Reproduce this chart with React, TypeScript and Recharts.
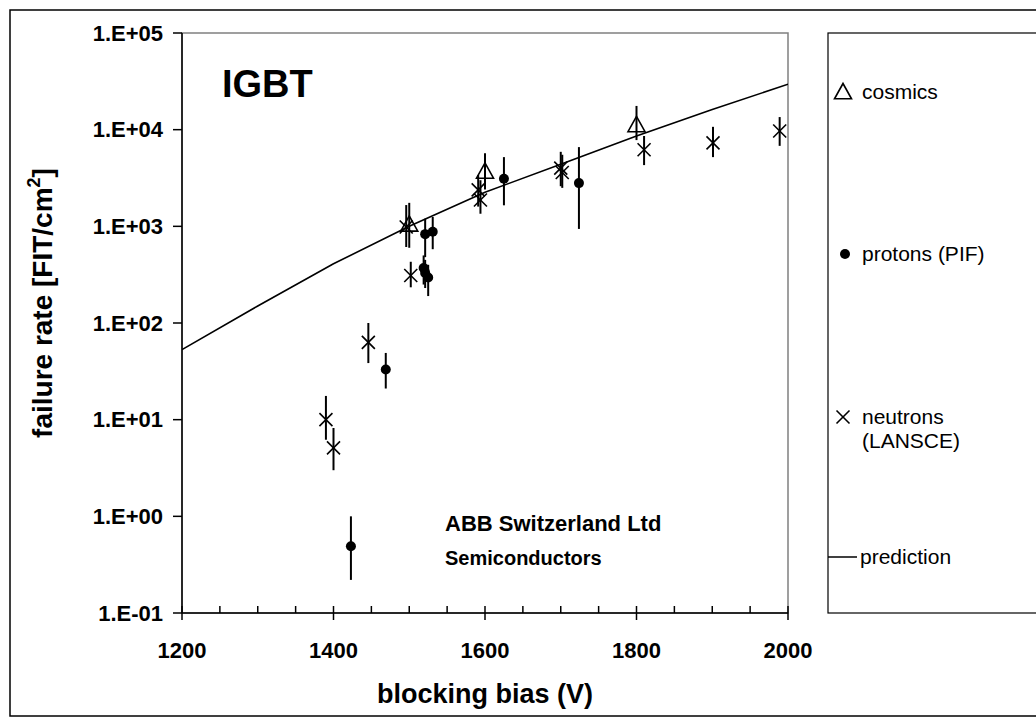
import React from 'react';
import { ScatterChart, Scatter, XAxis, YAxis, ErrorBar, Customized, ReferenceArea } from 'recharts';

const FONT = '"Liberation Sans", Arial, sans-serif';

// Axis ticks
const xTicks = [1200, 1250, 1300, 1350, 1400, 1450, 1500, 1550, 1600, 1650, 1700, 1750, 1800, 1850, 1900, 1950, 2000];
const xMajorTicks = [1200, 1400, 1600, 1800, 2000];
const yTicks = [0.1, 1, 10, 100, 1000, 10000, 100000];

// prediction curve
const predictionV = [1200, 1300, 1400, 1500, 1600, 1700, 1800, 1900, 2000];
const predictionRate = [53, 150, 410, 1000, 2250, 4400, 8600, 16200, 29500];

// cosmics
const cosmicsV = [1500, 1600, 1800];
const cosmicsRate = [1050, 3700, 11200];
const cosmicsLow = [600, 2400, 7800];
const cosmicsHigh = [1750, 5700, 17600];

// protons (PIF)
const protonsV = [1423, 1469, 1519, 1521, 1525, 1521, 1531, 1625, 1724];
const protonsRate = [0.49, 33, 370, 330, 295, 830, 880, 3100, 2800];
const protonsLow = [0.22, 21, 250, 230, 190, 480, 580, 1650, 940];
const protonsHigh = [1.0, 49, 500, 450, 400, 1200, 1250, 5200, 6600];

// neutrons (LANSCE)
const neutronsV = [1390, 1400, 1446, 1496, 1502, 1591, 1594, 1700, 1702, 1810, 1901, 1989];
const neutronsRate = [10, 5.1, 63, 985, 310, 2380, 1870, 4000, 3600, 6200, 7300, 9700];
const neutronsLow = [6.2, 3.0, 38.5, 611, 234, 1600, 1350, 2600, 2500, 4300, 5200, 6800];
const neutronsHigh = [17.6, 8.2, 100, 1660, 430, 3400, 3000, 5900, 5500, 8600, 10700, 13500];

const build = (xs: number[], ys: number[], lo?: number[], hi?: number[]) =>
  xs.map((x, i) => ({
    x,
    y: ys[i],
    err: lo && hi ? [ys[i] - lo[i], hi[i] - ys[i]] : undefined,
  }));

const predictionData = build(predictionV, predictionRate);
const cosmicsData = build(cosmicsV, cosmicsRate, cosmicsLow, cosmicsHigh);
const protonsData = build(protonsV, protonsRate, protonsLow, protonsHigh);
const neutronsData = build(neutronsV, neutronsRate, neutronsLow, neutronsHigh);

const fmtY = (v: number) => {
  const e = Math.round(Math.log10(v));
  const s = Math.abs(e).toString().padStart(2, '0');
  return `1.E${e < 0 ? '-' : '+'}${s}`;
};

const Triangle = (p: any) => {
  const { cx, cy } = p;
  if (cx == null || cy == null) return <g />;
  const s = 8.5;
  return (
    <polygon
      points={`${cx},${cy - s} ${cx - s},${cy + s * 0.8} ${cx + s},${cy + s * 0.8}`}
      fill="none"
      stroke="#000"
      strokeWidth={1.6}
    />
  );
};

const Dot = (p: any) => {
  const { cx, cy } = p;
  if (cx == null || cy == null) return <g />;
  return <circle cx={cx} cy={cy} r={5} fill="#000" />;
};

const Cross = (p: any) => {
  const { cx, cy } = p;
  if (cx == null || cy == null) return <g />;
  const s = 6.5;
  return (
    <g stroke="#000" strokeWidth={1.6}>
      <line x1={cx - s} y1={cy - s} x2={cx + s} y2={cy + s} />
      <line x1={cx - s} y1={cy + s} x2={cx + s} y2={cy - s} />
    </g>
  );
};

const NoShape = () => <g />;

const XTick = (props: any) => {
  const { x, y, payload } = props;
  const major = xMajorTicks.includes(payload.value);
  return (
    <g>
      <line x1={x} x2={x} y1={y - 7} y2={major ? y + 7 : y} stroke="#000" strokeWidth={1.5} />
      {major && (
        <text x={x} y={y + 45} textAnchor="middle" fontFamily={FONT} fontWeight="bold" fontSize={22} fill="#000">
          {payload.value}
        </text>
      )}
    </g>
  );
};

const Annotations = () => (
  <g fontFamily={FONT} fill="#000">
    {/* outer frame */}
    <rect x={10} y={10} width={1040} height={706} fill="none" stroke="#000" strokeWidth={1.5} />
    {/* legend box */}
    <rect x={828} y={33} width={220} height={580} fill="none" stroke="#000" strokeWidth={1.2} />
    <Triangle cx={843} cy={92} />
    <text x={862} y={99} fontSize={21}>cosmics</text>
    <Dot cx={845} cy={254} />
    <text x={862} y={261} fontSize={21}>protons (PIF)</text>
    <Cross cx={843} cy={417} />
    <text x={862} y={424} fontSize={21}>neutrons</text>
    <text x={862} y={448} fontSize={21}>(LANSCE)</text>
    <line x1={828} x2={857} y1={557} y2={557} stroke="#000" strokeWidth={1.5} />
    <text x={860} y={564} fontSize={21}>prediction</text>

    {/* annotations */}
    <text x={222} y={97} fontSize={38} fontWeight="bold">IGBT</text>
    <text x={445} y={531} fontSize={22} fontWeight="bold">ABB Switzerland Ltd</text>
    <text x={445} y={565} fontSize={20} fontWeight="bold">Semiconductors</text>

    {/* axis titles */}
    <text x={485} y={703} fontSize={27} fontWeight="bold" textAnchor="middle">blocking bias (V)</text>
    <text
      x={0}
      y={0}
      fontSize={28}
      fontWeight="bold"
      textAnchor="middle"
      transform="translate(52,303) rotate(-90)"
    >
      failure rate [FIT/cm
      <tspan fontSize={18} dy={-12}>2</tspan>
      <tspan dy={12}>]</tspan>
    </text>
  </g>
);

export default function App() {
  return (
    <div style={{ position: 'absolute', left: 0, top: 0, width: 1036, height: 726, background: '#fff' }}>
      <ScatterChart
        width={1036}
        height={726}
        margin={{ top: 33, right: 248, bottom: 33, left: 0 }}
      >
        <ReferenceArea
          x1={1200}
          x2={2000}
          y1={0.1}
          y2={100000}
          fill="none"
          stroke="#808080"
          strokeWidth={1.5}
          ifOverflow="visible"
        />
        <XAxis
          type="number"
          dataKey="x"
          domain={[1200, 2000]}
          ticks={xTicks}
          interval={0}
          tickSize={0}
          tickMargin={0}
          tickLine={false}
          tick={<XTick />}
          height={80}
          axisLine={{ stroke: '#000', strokeWidth: 1.5 }}
          allowDataOverflow
        />
        <YAxis
          type="number"
          dataKey="y"
          scale="log"
          domain={[0.1, 100000]}
          ticks={yTicks}
          interval={0}
          tickFormatter={fmtY}
          width={182}
          tickSize={9}
          tickMargin={10}
          tickLine={{ stroke: '#000', strokeWidth: 1.5 }}
          axisLine={{ stroke: '#000', strokeWidth: 1.5 }}
          tick={{ fill: '#000', fontFamily: FONT, fontWeight: 'bold', fontSize: 22 }}
          allowDataOverflow
        />
        <Scatter
          name="prediction"
          data={predictionData}
          line={{ stroke: '#000', strokeWidth: 1.6 }}
          shape={NoShape}
          isAnimationActive={false}
        />
        <Scatter name="cosmics" data={cosmicsData} shape={Triangle} isAnimationActive={false}>
          <ErrorBar dataKey="err" direction="y" width={0} stroke="#000" strokeWidth={2} isAnimationActive={false} />
        </Scatter>
        <Scatter name="protons (PIF)" data={protonsData} shape={Dot} isAnimationActive={false}>
          <ErrorBar dataKey="err" direction="y" width={0} stroke="#000" strokeWidth={2} isAnimationActive={false} />
        </Scatter>
        <Scatter name="neutrons (LANSCE)" data={neutronsData} shape={Cross} isAnimationActive={false}>
          <ErrorBar dataKey="err" direction="y" width={0} stroke="#000" strokeWidth={2} isAnimationActive={false} />
        </Scatter>
        <Customized component={Annotations} />
      </ScatterChart>
    </div>
  );
}
